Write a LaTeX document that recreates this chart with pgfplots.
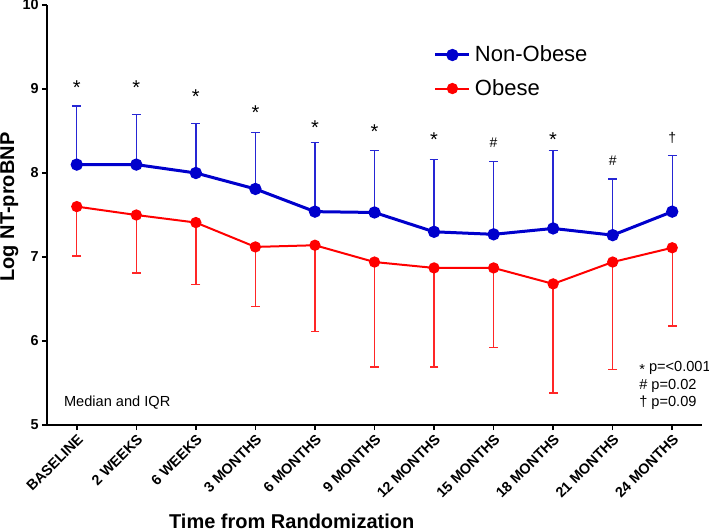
\documentclass[border=0pt]{standalone}
\usepackage{fontspec}
\setmainfont{Liberation Sans}
\usepackage{pgfplots}
\pgfplotsset{compat=1.18}
\usepackage{pgfplotstable}
\definecolor{cblue}{RGB}{0,0,204}
\definecolor{cred}{RGB}{255,0,0}

\pgfplotstableread{
x y e
0 8.10 0.70
1 8.10 0.60
2 8.00 0.59
3 7.81 0.67
4 7.54 0.82
5 7.53 0.74
6 7.30 0.86
7 7.27 0.87
8 7.34 0.93
9 7.26 0.67
10 7.54 0.67
}\nonobese

\pgfplotstableread{
x y e
0 7.60 0.59
1 7.50 0.69
2 7.41 0.74
3 7.12 0.71
4 7.14 1.03
5 6.94 1.25
6 6.87 1.18
7 6.87 0.95
8 6.68 1.30
9 6.94 1.28
10 7.11 0.93
}\obese

\begin{document}
\begin{tikzpicture}
\path[use as bounding box] (-23.5pt,-53pt) rectangle (331pt,212.5pt);
\begin{axis}[
  scale only axis, width=327.5pt, height=210pt,
  xmin=-0.5, xmax=10.5, ymin=5, ymax=10,
  axis lines=left, axis line style={line width=1pt, -},
  xtick={0,...,10},
  xticklabels={BASELINE, 2 WEEKS, 6 WEEKS, 3 MONTHS, 6 MONTHS, 9 MONTHS, 12 MONTHS, 15 MONTHS, 18 MONTHS, 21 MONTHS, 24 MONTHS},
  ytick={5,...,10},
  tick align=outside, major tick length=2.5pt,
  tick style={line width=0.8pt, black},
  ticklabel style={font=\bfseries\fontsize{7.2}{8}\selectfont},
  xticklabel style={rotate=45, anchor=north east, inner sep=1pt},
  yticklabel style={inner sep=1.5pt},
  /pgf/number format/assume math mode=true,
  clip=false,
  legend style={draw=none, fill=none, font=\fontsize{11}{13}\selectfont,
    at={(0.59,0.914)}, anchor=north west, inner sep=0pt, row sep=3.3pt},
  legend cell align=left,
]
\addplot[cblue, line width=1.5pt, mark=*, mark size=2.3pt, mark options={solid, fill=cblue},
  error bars/.cd, y dir=plus, y explicit,
  error bar style={line width=0.7pt, cblue!85!white},
  error mark options={rotate=90, line width=0.7pt, mark size=2.2pt, cblue!85!white}]
  table[x=x, y=y, y error plus=e] {\nonobese};
\addlegendentry{Non-Obese}
\addplot[cred, line width=1pt, mark=*, mark size=2.3pt, mark options={solid, fill=cred},
  error bars/.cd, y dir=minus, y explicit,
  error bar style={line width=0.7pt, cred!85!white},
  error mark options={rotate=90, line width=0.7pt, mark size=2.2pt, cred!85!white}]
  table[x=x, y=y, y error minus=e] {\obese};
\addlegendentry{Obese}

% significance annotations
\tikzset{ast/.style={anchor=north, inner sep=0pt, font=\fontsize{10}{12}\selectfont},
         sym/.style={anchor=north, inner sep=0pt, font=\fontsize{7}{8}\selectfont}}
\node[ast] at (axis cs:0,9.107) {*};
\node[ast] at (axis cs:1,9.107) {*};
\node[ast] at (axis cs:2,9.0) {*};
\node[ast] at (axis cs:3,8.81) {*};
\node[ast] at (axis cs:4,8.63) {*};
\node[ast] at (axis cs:5,8.58) {*};
\node[ast] at (axis cs:6,8.48) {*};
\node[sym] at (axis cs:7,8.42) {\#};
\node[ast] at (axis cs:8,8.49) {*};
\node[sym] at (axis cs:9,8.21) {\#};
\node[sym] at (axis cs:10,8.49) {\dag};

\node[anchor=west, inner sep=0pt, font=\fontsize{7.3}{9}\selectfont] at (axis cs:-0.22,5.27) {Median and IQR};
\node[anchor=west, inner sep=0pt, font=\fontsize{7.3}{9}\selectfont] at (axis cs:9.44,5.68) {\raisebox{-0.5ex}{*} p=<0.001};
\node[anchor=west, inner sep=0pt, font=\fontsize{7.3}{9}\selectfont] at (axis cs:9.44,5.46) {\# p=0.02};
\node[anchor=west, inner sep=0pt, font=\fontsize{7.3}{9}\selectfont] at (axis cs:9.44,5.26) {\dag\ p=0.09};

\node[font=\bfseries\fontsize{10}{12}\selectfont, yshift=-48pt] at (axis cs:3.61,5) {Time from Randomization};
\node[rotate=90, font=\bfseries\fontsize{10}{12}\selectfont] at (axis cs:-1.13,7.595) {Log NT-proBNP};
\end{axis}
\end{tikzpicture}
\end{document}
